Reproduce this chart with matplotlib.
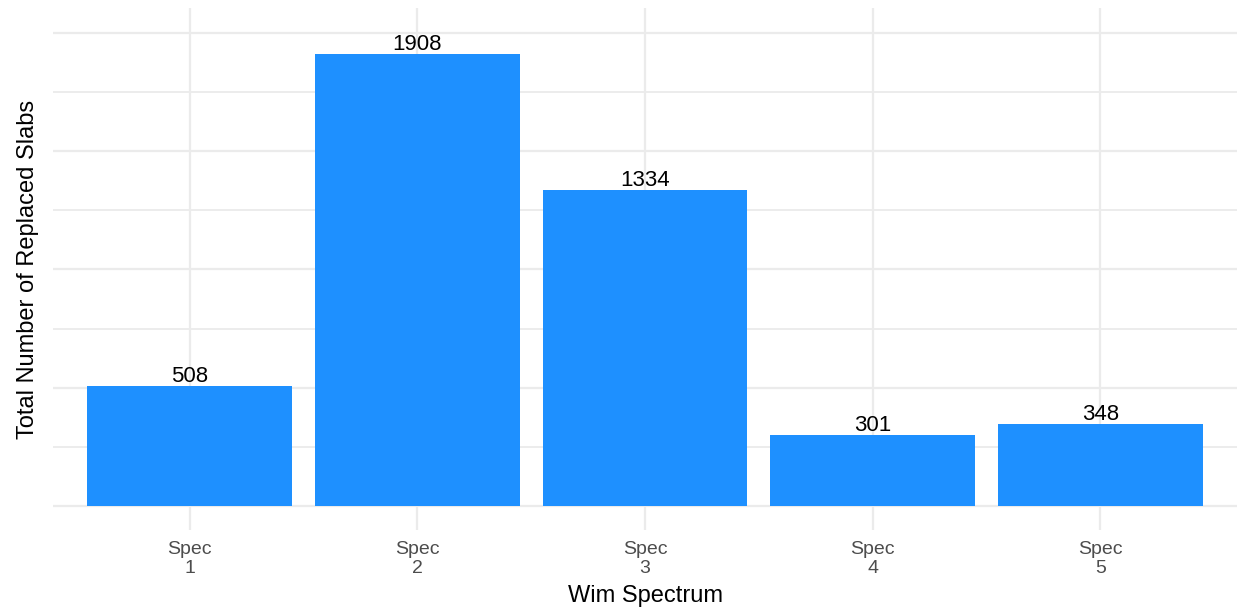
import matplotlib
matplotlib.use("Agg")
import matplotlib.pyplot as plt
import numpy as np

categories = ["Spec\n1", "Spec\n2", "Spec\n3", "Spec\n4", "Spec\n5"]
replaced = [508, 1908, 1334, 301, 348]
major_ticks = [0, 500, 1000, 1500, 2000]
minor_ticks = [250, 750, 1250, 1750]

BAR_BLUE = "#1E90FF"
GRID = "#EBEBEB"

plt.rcParams["font.family"] = ["Liberation Sans", "DejaVu Sans"]


def main():
    fig = plt.figure(figsize=(12.38, 6.10), dpi=100)
    ax = fig.add_axes([53 / 1238, 80 / 610, 1184 / 1238, 522 / 610])

    x = np.arange(len(categories))
    ax.bar(x, replaced, width=0.9, color=BAR_BLUE, zorder=2)
    for xi, v in zip(x, replaced):
        ax.annotate(str(v), (xi, v), xytext=(0, -0.5), textcoords="offset points",
                    ha="center", va="bottom", fontsize=16, color="black", zorder=3)

    top = max(replaced) * 1.05
    pad = top * 0.05
    ax.set_ylim(-pad, top + pad)
    ax.set_xlim(-0.6, len(categories) - 0.4)

    ax.set_yticks(major_ticks)
    ax.set_yticks(minor_ticks, minor=True)
    ax.set_yticklabels([])
    ax.set_xticks(x)
    ax.set_xticklabels(categories, fontsize=14, color="#4D4D4D", linespacing=1.15)

    ax.grid(True, which="major", color=GRID, linewidth=1.6, zorder=0)
    ax.grid(True, which="minor", axis="y", color=GRID, linewidth=1.3, zorder=0)
    ax.tick_params(axis="both", which="both", length=0, pad=8)
    for s in ax.spines.values():
        s.set_visible(False)

    ax.set_xlabel("Wim Spectrum", fontsize=17, labelpad=6)
    ax.set_ylabel("Total Number of Replaced Slabs", fontsize=17, labelpad=2)

    fig.savefig("out.png", dpi=100)


if __name__ == "__main__":
    main()
